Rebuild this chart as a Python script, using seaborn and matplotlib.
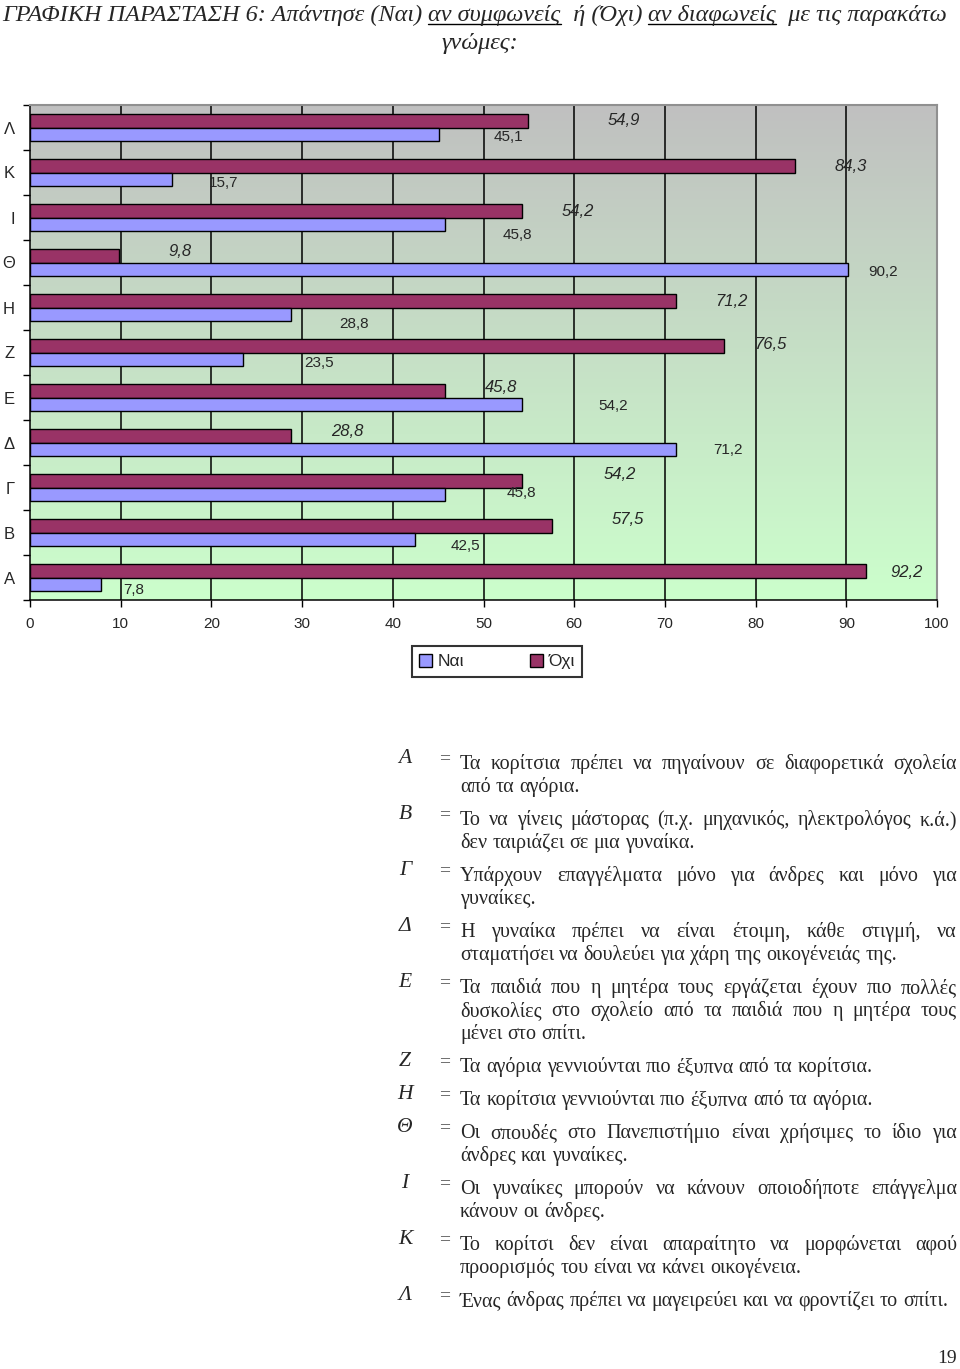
import numpy as np
import pandas as pd
import matplotlib
matplotlib.use("Agg")
import matplotlib.pyplot as plt
from matplotlib.lines import Line2D
from matplotlib.patches import Patch
import seaborn as sns

# -------------------------------
# Data (categories A..Λ, bottom to top in the chart)
# -------------------------------
categories = ["Α", "Β", "Γ", "Δ", "Ε", "Ζ", "Η", "Θ", "Ι", "Κ", "Λ"]
nai_values = [7.8, 42.5, 45.8, 71.2, 54.2, 23.5, 28.8, 90.2, 45.8, 15.7, 45.1]
oxi_values = [92.2, 57.5, 54.2, 28.8, 45.8, 76.5, 71.2, 9.8, 54.2, 84.3, 54.9]

# where the (hand-moved) value labels sit: x in data units, y offset in category units
nai_label_x = [11.4, 48.0, 54.2, 77.0, 64.3, 31.9, 35.7, 94.0, 53.7, 21.4, 52.7]
oxi_label_x = [96.6, 65.9, 65.0, 35.0, 51.9, 81.6, 77.3, 16.5, 60.4, 90.5, 65.5]
nai_label_dy = [0.27, 0.29, 0.13, 0.16, 0.18, 0.24, 0.36, 0.22, 0.38, 0.24, 0.22]
oxi_label_dy = [-0.11, -0.29, -0.29, -0.24, -0.22, -0.18, -0.13, -0.24, -0.13, -0.13, -0.16]

legend_labels = ["Ναι", "Όχι"]
colors = {"Ναι": "#9999FF", "Όχι": "#993366"}

title_parts = [
    ("ΓΡΑΦΙΚΗ ΠΑΡΑΣΤΑΣΗ 6: Απάντησε (Ναι) ", False),
    ("αν συμφωνείς", True),
    ("  ή (Όχι) ", False),
    ("αν διαφωνείς", True),
    ("  με τις παρακάτω", False),
]
title_line2 = "γνώμες:"

statements = [
    ("Α", ["Τα κορίτσια πρέπει να πηγαίνουν σε διαφορετικά σχολεία",
           "από τα αγόρια."]),
    ("Β", ["Το να γίνεις μάστορας (π.χ. μηχανικός, ηλεκτρολόγος κ.ά.)",
           "δεν ταιριάζει σε μια γυναίκα."]),
    ("Γ", ["Υπάρχουν επαγγέλματα μόνο για άνδρες και μόνο για",
           "γυναίκες."]),
    ("Δ", ["Η γυναίκα πρέπει να είναι έτοιμη, κάθε στιγμή, να",
           "σταματήσει να δουλεύει για χάρη της οικογένειάς της."]),
    ("Ε", ["Τα παιδιά που η μητέρα τους εργάζεται έχουν πιο πολλές",
           "δυσκολίες στο σχολείο από τα παιδιά που η μητέρα τους",
           "μένει στο σπίτι."]),
    ("Ζ", ["Τα αγόρια γεννιούνται πιο έξυπνα από τα κορίτσια."]),
    ("Η", ["Τα κορίτσια γεννιούνται πιο έξυπνα από τα αγόρια."]),
    ("Θ", ["Οι σπουδές στο Πανεπιστήμιο είναι χρήσιμες το ίδιο για",
           "άνδρες και γυναίκες."]),
    ("Ι", ["Οι γυναίκες μπορούν να κάνουν οποιοδήποτε επάγγελμα",
           "κάνουν οι άνδρες."]),
    ("Κ", ["Το κορίτσι δεν είναι απαραίτητο να μορφώνεται αφού",
           "προορισμός του είναι να κάνει οικογένεια."]),
    ("Λ", ["Ένας άνδρας πρέπει να μαγειρεύει και να φροντίζει το σπίτι."]),
]
page_number = "19"

# -------------------------------
# Figure setup
# -------------------------------
sns.set_theme(style="white")
plt.rcParams["font.family"] = ["Liberation Sans", "DejaVu Sans"]

W, H = 960, 1369
fig = plt.figure(figsize=(W / 100, H / 100), dpi=100)
fig.patch.set_facecolor("white")


def fx(px):
    return px / W


def fy(py):
    return 1 - py / H


ax = fig.add_axes([fx(30), fy(600), fx(937) - fx(30), fy(105) - fy(600)])

# long-format table for seaborn, top category first
order = categories[::-1]
df = pd.DataFrame({
    "cat": categories * 2,
    "val": nai_values + oxi_values,
    "resp": ["Ναι"] * len(categories) + ["Όχι"] * len(categories),
})

# gradient background: gray at top to pale green at bottom
top_c = np.array([192, 192, 192]) / 255
bot_c = np.array([204, 255, 204]) / 255
t = np.linspace(0, 1, 256)[:, None]
grad = (top_c * (1 - t) + bot_c * t)[:, None, :]
ax.imshow(grad, extent=[0, 1, 0, 1], transform=ax.transAxes, aspect="auto",
          origin="upper", zorder=0)

for xv in range(10, 100, 10):
    ax.axvline(xv, color="black", lw=1.1, zorder=1)

sns.barplot(data=df, y="cat", x="val", hue="resp", order=order,
            hue_order=["Όχι", "Ναι"], palette=colors, orient="h",
            width=0.58, gap=0, saturation=1, edgecolor="black",
            linewidth=1.0, legend=False, ax=ax, zorder=2)

ax.set_xlim(0, 100)
ax.set_ylim(len(order) - 0.5, -0.5)
ax.set_xlabel("")
ax.set_ylabel("")
ax.set_xticks(range(0, 101, 10))
ax.set_xticklabels([str(v) for v in range(0, 101, 10)], fontsize=11)
ax.set_yticks(range(len(order)))
ax.set_yticklabels(order, fontsize=12)
ax.set_yticks(np.arange(-0.5, len(order), 1), minor=True)
ax.tick_params(axis="y", which="major", length=0, pad=11)
ax.tick_params(axis="y", which="minor", length=5, width=1, color="black",
               direction="out", left=True)
ax.tick_params(axis="x", length=5, width=1, color="black", direction="out",
               bottom=True, pad=7)
for side in ["left", "bottom"]:
    ax.spines[side].set_color("black")
    ax.spines[side].set_linewidth(1.1)
for side in ["top", "right"]:
    ax.spines[side].set_color("#909090")
    ax.spines[side].set_linewidth(1.5)

# value labels (Ναι plain, Όχι italic)
for i, c in enumerate(categories):
    ypos = order.index(c)
    ax.text(nai_label_x[i], ypos + nai_label_dy[i],
            f"{nai_values[i]:.1f}".replace(".", ","),
            ha="center", va="center", fontsize=11, zorder=5)
    ax.text(oxi_label_x[i], ypos + oxi_label_dy[i],
            f"{oxi_values[i]:.1f}".replace(".", ","),
            ha="center", va="center", fontsize=12, style="italic", zorder=5)

handles = [Patch(facecolor=colors[k], edgecolor="black", label=k) for k in legend_labels]
leg = fig.legend(handles=handles, loc="center", bbox_to_anchor=(fx(497), fy(661.5)),
                 ncol=2, fontsize=12.5, frameon=True, fancybox=False,
                 edgecolor="black", handlelength=0.75, handleheight=0.75,
                 handletextpad=0.3, columnspacing=3.8, borderpad=0.45,
                 borderaxespad=0)
leg.get_frame().set_linewidth(1.5)

# -------------------------------
# Title with underlined parts
# -------------------------------
renderer = fig.canvas.get_renderer()
serif = ["Liberation Serif", "DejaVu Serif"]
title_kw = dict(fontsize=17.5, style="italic", family=serif, va="baseline")

x_px = 2
for txt, underline in title_parts:
    tt = fig.text(fx(x_px), fy(21), txt, **title_kw)
    bb = tt.get_window_extent(renderer)
    if underline:
        fig.add_artist(Line2D([fx(x_px), fx(x_px + bb.width)], [fy(24), fy(24)],
                              transform=fig.transFigure, color="black", lw=1))
    x_px += bb.width
fig.text(0.5, fy(49), title_line2, ha="center", **title_kw)

# -------------------------------
# Statement list (justified lines)
# -------------------------------
body_kw = dict(fontsize=14.5, family=serif, va="baseline")
probe_a = fig.text(0, 0, "xx", **body_kw)
probe_b = fig.text(0, 0, "x x", **body_kw)
space_w = probe_b.get_window_extent(renderer).width - probe_a.get_window_extent(renderer).width
probe_a.remove()
probe_b.remove()


def put_line(line, y_px, x0, x1, justify):
    words = line.split(" ")
    texts = [fig.text(0, fy(y_px), w, **body_kw) for w in words]
    widths = [tx.get_window_extent(renderer).width for tx in texts]
    if justify and len(words) > 1:
        gap = (x1 - x0 - sum(widths)) / (len(words) - 1)
    else:
        gap = space_w
    x = x0
    for tx, w in zip(texts, widths):
        tx.set_x(fx(x))
        x += w + gap


y = 769
for letter, lines in statements:
    fig.text(fx(405), fy(y - 6), letter, ha="center", fontsize=15.5,
             style="italic", family=serif, va="baseline")
    fig.text(fx(445), fy(y - 6), "=", ha="center", fontsize=14,
             family=serif, va="baseline", color="#444444")
    for j, line in enumerate(lines):
        put_line(line, y, 460, 957, justify=(j < len(lines) - 1))
        y += 23
    y += 10

fig.text(fx(957), fy(1363), page_number, ha="right", fontsize=14,
         family=serif, va="baseline")

fig.savefig("out.png", dpi=100)
